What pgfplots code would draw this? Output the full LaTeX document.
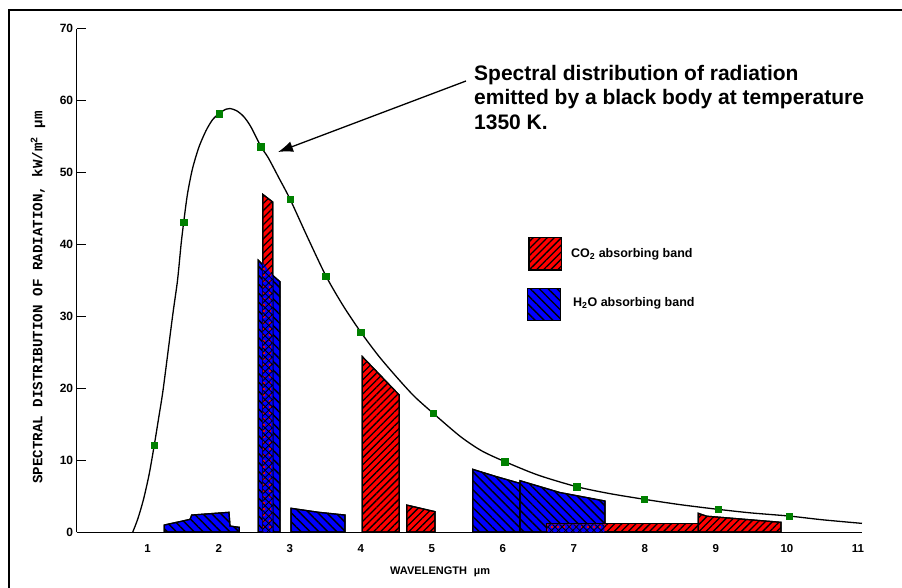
\documentclass[border=0pt]{standalone}
\usepackage{fontspec}
\setmainfont{Liberation Sans}
\newfontfamily\monofont{Liberation Mono}
\usepackage{pgfplots}
\pgfplotsset{compat=1.18}
\usetikzlibrary{patterns.meta,arrows.meta}
\definecolor{mkgreen}{RGB}{0,128,0}
\definecolor{bandred}{RGB}{255,0,0}
\definecolor{bandblue}{RGB}{0,0,255}
\tikzset{
 co2/.style={fill=bandred, draw=black, line width=1.2pt, postaction={pattern={Lines[angle=45,distance=5pt,line width=1.3pt]}, pattern color=black}},
 h2o/.style={fill=bandblue, draw=black, line width=1.2pt, postaction={pattern={Lines[angle=-45,distance=6.3pt,line width=1.4pt]}, pattern color=black}},
 both/.style={fill=bandblue, draw=none, postaction={pattern={Dots[distance=6pt,radius=1.3pt]}, pattern color=bandred}, postaction={pattern={Lines[angle=45,distance=5pt,line width=0.8pt]}, pattern color=black}, postaction={pattern={Lines[angle=-45,distance=5pt,line width=0.8pt]}, pattern color=black}},
}
\begin{document}
\begin{tikzpicture}[x=1pt,y=1pt]
\draw[line width=2pt] (9,-10) -- (9,577) -- (920,577);
\begin{axis}[at={(76.66pt,55pt)}, anchor=south west, scale only axis,
  width=785.3pt, height=503.3pt,
  xmin=0, xmax=11.056, ymin=0, ymax=70,
  axis x line*=bottom, axis y line*=left,
  axis line style={black, line width=1pt},
  xtick={1,...,11}, ytick={0,10,...,70},
  tick align=inside, major tick length=9pt,
  x tick style={draw=none}, y tick style={black, line width=1pt},
  /pgf/number format/assume math mode=true,
  xticklabel style={font=\bfseries\fontsize{11.5}{12}\selectfont, yshift=-9pt},
  yticklabel style={font=\bfseries\fontsize{12}{12}\selectfont},
  clip=false]
% H2O bands
\addplot[h2o] coordinates {(1.234,0) (1.234,0.97) (1.596,1.76) (1.62,2.36) (2.145,2.74) (2.159,0.83) (2.29,0.65) (2.29,0)} \closedcycle;
\addplot[h2o] coordinates {(2.557,0) (2.557,37.8) (2.76,35.7) (2.863,34.8) (2.863,0)} \closedcycle;
\addplot[h2o] coordinates {(3.018,0) (3.018,3.3) (3.4,2.75) (3.778,2.36) (3.778,0)} \closedcycle;
\addplot[h2o] coordinates {(5.576,0) (5.576,8.72) (5.91,7.7) (6.241,6.77) (6.241,0)} \closedcycle;
\addplot[h2o] coordinates {(6.241,0) (6.241,7.14) (6.8,5.5) (7.438,4.31) (7.438,0)} \closedcycle;
% CO2 bands
\addplot[co2] coordinates {(2.619,0) (2.619,46.97) (2.76,45.9) (2.76,0)} \closedcycle;
\addplot[co2] coordinates {(4.021,0) (4.021,24.4) (4.542,19.05) (4.542,0)} \closedcycle;
\addplot[co2] coordinates {(4.646,0) (4.646,3.75) (5.045,2.83) (5.045,0)} \closedcycle;
\addplot[co2] coordinates {(6.617,0) (6.617,1.15) (8.752,1.15) (8.752,0)} \closedcycle;
\addplot[co2] coordinates {(8.752,0) (8.752,2.6) (8.87,2.2) (9.916,1.35) (9.916,0)} \closedcycle;
% overlaps
\addplot[both] coordinates {(2.619,0.15) (2.619,37.5) (2.76,35.6) (2.76,0.15)} \closedcycle;
\addplot[both] coordinates {(6.63,0.1) (6.63,1.05) (7.43,1.05) (7.43,0.1)} \closedcycle;
% black body curve
\addplot[black, line width=1.3pt, smooth, tension=0.45] coordinates {
(0.79,0) (0.86,1.8) (0.94,4.5) (1.02,8) (1.093,12.1) (1.16,16.2) (1.22,20)
(1.35,30) (1.42,35) (1.47,40) (1.507,43.1) (1.56,47) (1.63,50.5) (1.72,53.5)
(1.82,55.8) (1.91,57.3) (2.004,58.2) (2.1,58.8) (2.16,58.9) (2.25,58.6)
(2.35,57.8) (2.45,56.4) (2.595,53.6) (2.7,52.0) (2.85,49.2) (3.004,46.3)
(3.25,41.0) (3.51,35.6) (3.75,31.5) (4.0,27.8) (4.25,24.5) (4.5,21.6) (4.75,18.9)
(5.021,16.5) (5.4,13.3) (5.7,11.3) (6.03,9.78) (6.5,7.9)
(7.04,6.3) (7.5,5.35) (7.99,4.55) (8.5,3.8) (9.03,3.15) (9.5,2.65)
(10.03,2.22) (10.5,1.7) (11.056,1.2)};
\addplot[only marks, mark=square*, mark size=3.3pt, mkgreen, mark options={fill=mkgreen, draw=mkgreen}] coordinates {
(1.093,12.1) (1.507,43.1) (2.004,58.2) (2.595,53.6) (3.004,46.3) (3.51,35.6)
(4.0,27.8) (5.021,16.5) (6.03,9.78) (7.04,6.3) (7.99,4.55) (9.03,3.15) (10.03,2.22)};
\end{axis}
% legend
\draw[co2] (529,317) rectangle (561.7,349.7);
\draw[h2o] (527.7,266.3) rectangle (560.7,298.7);
\node[anchor=west, inner sep=0pt, font=\bfseries\fontsize{12.5}{14}\selectfont] at (571,333) {CO\textsubscript{2} absorbing band};
\node[anchor=west, inner sep=0pt, font=\bfseries\fontsize{12.5}{14}\selectfont] at (573,283.7) {H\textsubscript{2}O absorbing band};
% annotation
\node[anchor=base west, inner sep=0pt, font=\bfseries\fontsize{21}{25}\selectfont] at (474,506.3) {Spectral distribution of radiation};
\node[anchor=base west, inner sep=0pt, font=\bfseries\fontsize{21}{25}\selectfont] at (474,482) {emitted by a black body at temperature};
\node[anchor=base west, inner sep=0pt, font=\bfseries\fontsize{21}{25}\selectfont] at (474,457) {1350 K.};
\draw[line width=1.3pt, -{Latex[length=15pt,width=11pt]}] (466,506) -- (278,435);
% axis labels
\node[rotate=90, inner sep=0pt, font=\monofont\bfseries\fontsize{14.2}{15}\selectfont] at (38,289.5) {SPECTRAL DISTRIBUTION OF RADIATION, kW/m\textsuperscript{2} µm};
\node[anchor=base west, inner sep=0pt, font=\bfseries\fontsize{11}{12}\selectfont] at (390,13) {WAVELENGTH\hspace{7pt}µm};
\pgfresetboundingbox
\useasboundingbox (0,0) rectangle (902,587);
\end{tikzpicture}
\end{document}
